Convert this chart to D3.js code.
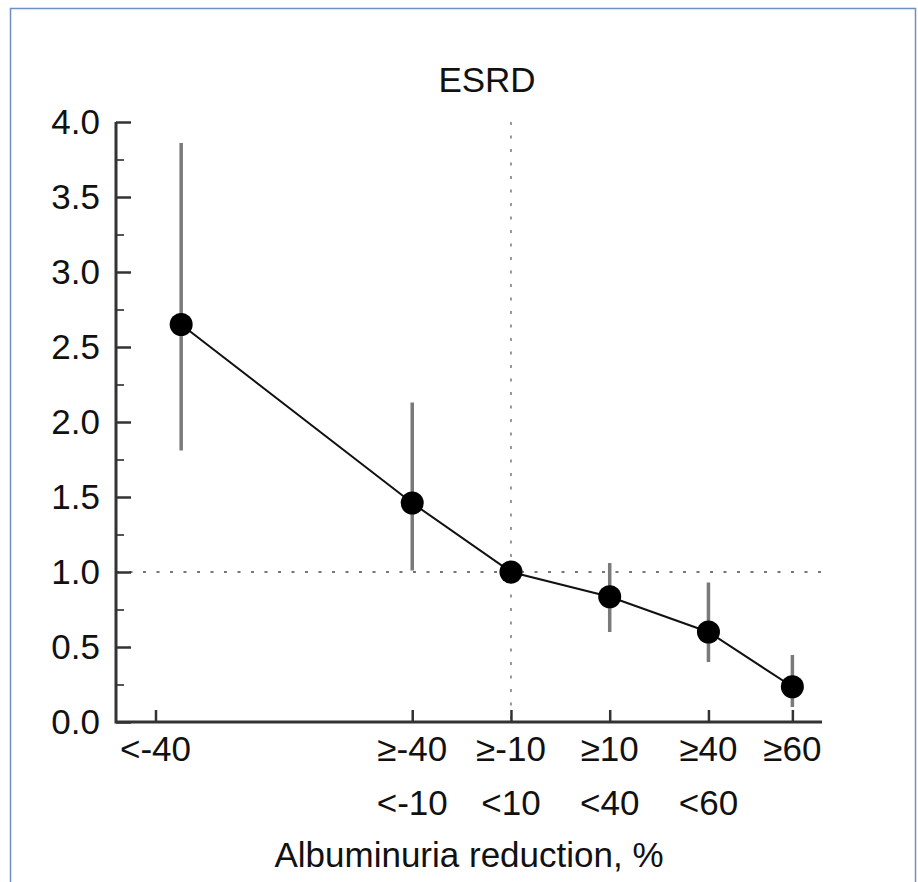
<!DOCTYPE html>
<html>
<head>
<meta charset="utf-8">
<script src="https://cdn.jsdelivr.net/npm/d3@7"></script>
<style>
  html, body { margin: 0; padding: 0; background: #fff; }
  svg { display: block; font-family: "Liberation Sans", Arial, Helvetica, sans-serif; }
</style>
</head>
<body>
<svg id="chart" width="918" height="882"></svg>
<script>
// Data (x positions are in category-slot units along the axis)
const groupsTop = ['<-40', '≥-40', '≥-10', '≥10', '≥40', '≥60']
const groupsBottom = ['', '<-10', '<10', '<40', '<60', '']
const tickPos = [0.4, 3, 4, 5, 6, 6.85]
const pointPos = [0.66, 3, 4, 5, 6, 6.85]
const estimate = [2.65, 1.46, 1.0, 0.835, 0.60, 0.235]
const lower = [1.81, 1.01, 1.0, 0.60, 0.40, 0.10]
const upper = [3.86, 2.13, 1.0, 1.06, 0.93, 0.447]
const yMajor = [0, 0.5, 1, 1.5, 2, 2.5, 3, 3.5, 4]
const yMinor = [0.25, 0.75, 1.25, 1.75, 2.25, 2.75, 3.25, 3.75]
const refValue = 1
const refPos = 4
const title = 'ESRD'
const xTitle = 'Albuminuria reduction, %'

const svg = d3.select('#chart')
const mLeft = 116
const mRight = 822
const mTop = 122
const mBottom = 722
const fontSize = 35

const x = d3.scaleLinear().domain([0, 7.15]).range([mLeft, mRight])
const y = d3.scaleLinear().domain([0, 4]).range([mBottom, mTop])

// Frame
svg.append('rect')
  .attr('x', 10.5).attr('y', 8.5)
  .attr('width', 905).attr('height', 900)
  .attr('fill', 'none')
  .attr('stroke', '#6f8fc6')
  .attr('stroke-width', 1.5)

// Reference lines
const dots = '3,10.5'
svg.append('line')
  .attr('x1', x(0)).attr('x2', x(7.15))
  .attr('y1', y(refValue)).attr('y2', y(refValue))
  .attr('stroke', '#777').attr('stroke-width', 2)
  .attr('stroke-dasharray', dots)
svg.append('line')
  .attr('x1', x(refPos)).attr('x2', x(refPos))
  .attr('y1', y(4)).attr('y2', y(0))
  .attr('stroke', '#777').attr('stroke-width', 1.5)
  .attr('stroke-dasharray', dots)

// Y axis (ticks point inward)
const yAxis = svg.append('g')
  .attr('transform', `translate(${mLeft},0)`)
  .call(d3.axisLeft(y).tickValues(yMajor).tickSize(-15).tickPadding(16)
    .tickFormat(d3.format('.1f')))
yAxis.select('.domain').remove()
yAxis.selectAll('.tick line').attr('stroke', '#333').attr('stroke-width', 2.5)
yAxis.selectAll('text')
  .attr('font-size', fontSize)
  .attr('font-family', '"Liberation Sans", Arial, sans-serif')
  .attr('fill', '#111')

const yMinorAxis = svg.append('g')
  .attr('transform', `translate(${mLeft},0)`)
  .call(d3.axisLeft(y).tickValues(yMinor).tickSize(-8).tickFormat(''))
yMinorAxis.select('.domain').remove()
yMinorAxis.selectAll('.tick line').attr('stroke', '#555').attr('stroke-width', 2)

// X axis (ticks point up, labels drawn separately in two rows)
const xAxis = svg.append('g')
  .attr('transform', `translate(0,${mBottom})`)
  .call(d3.axisBottom(x).tickValues(tickPos).tickSize(-12).tickFormat(''))
xAxis.select('.domain').remove()
xAxis.selectAll('.tick line').attr('stroke', '#333').attr('stroke-width', 2.5)

// Axis lines
svg.append('path')
  .attr('d', `M${mLeft},${mTop}V${mBottom}H${mRight}`)
  .attr('fill', 'none')
  .attr('stroke', '#333')
  .attr('stroke-width', 3)

// X labels
const labels = svg.append('g')
  .attr('font-size', fontSize)
  .attr('fill', '#111')
  .attr('text-anchor', 'middle')
labels.selectAll('text.top').data(groupsTop).join('text')
  .attr('class', 'top')
  .attr('x', (d, i) => x(tickPos[i]))
  .attr('y', mBottom + 39)
  .text(d => d)
labels.selectAll('text.bottom').data(groupsBottom).join('text')
  .attr('class', 'bottom')
  .attr('x', (d, i) => x(tickPos[i]))
  .attr('y', mBottom + 93)
  .text(d => d)

svg.append('text')
  .attr('x', (mLeft + mRight) / 2)
  .attr('y', mBottom + 145)
  .attr('text-anchor', 'middle')
  .attr('font-size', fontSize)
  .attr('fill', '#111')
  .text(xTitle)

svg.append('text')
  .attr('x', (mLeft + mRight) / 2 + 18)
  .attr('y', 92)
  .attr('text-anchor', 'middle')
  .attr('font-size', fontSize)
  .attr('fill', '#111')
  .text(title)

// Error bars
const data = estimate.map((v, i) => ({ x: pointPos[i], v, lo: lower[i], hi: upper[i] }))
svg.append('g').selectAll('line').data(data.filter(d => d.hi > d.lo)).join('line')
  .attr('x1', d => x(d.x)).attr('x2', d => x(d.x))
  .attr('y1', d => y(d.lo)).attr('y2', d => y(d.hi))
  .attr('stroke', '#7a7a7a')
  .attr('stroke-width', 3.5)

// Connecting line
svg.append('path')
  .datum(data)
  .attr('fill', 'none')
  .attr('stroke', '#111')
  .attr('stroke-width', 2)
  .attr('d', d3.line().x(d => x(d.x)).y(d => y(d.v)))

// Points
svg.append('g').selectAll('circle').data(data).join('circle')
  .attr('cx', d => x(d.x))
  .attr('cy', d => y(d.v))
  .attr('r', 11.5)
  .attr('fill', '#000')
</script>
</body>
</html>
